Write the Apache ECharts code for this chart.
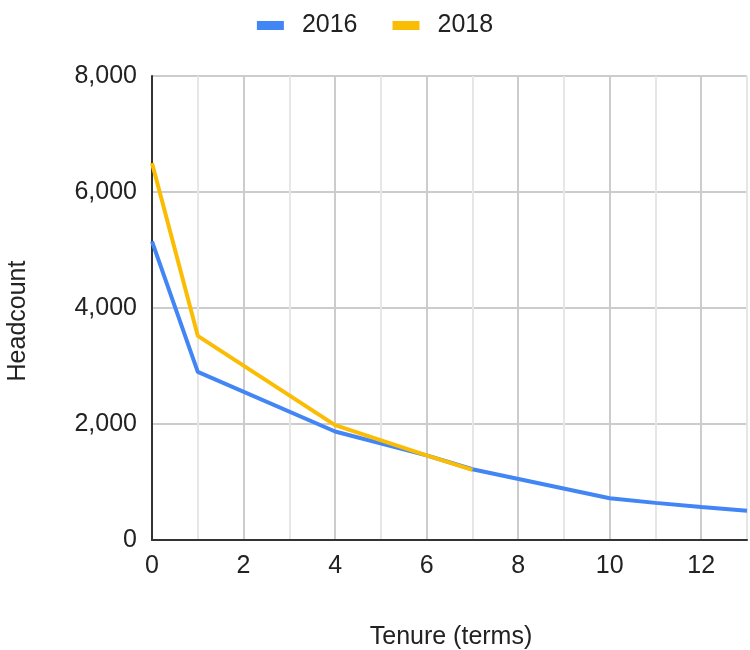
<!DOCTYPE html>
<html>
<head>
<meta charset="utf-8">
<script src="https://cdn.jsdelivr.net/npm/echarts@6/dist/echarts.min.js"></script>
<style>html,body{margin:0;padding:0;background:#fff}#c{width:750px;height:650px}</style>
</head>
<body>
<div id="c"></div>
<script>
const seriesNames = ['2016', '2018'];
const tenure2016 = [0, 1, 4, 6, 7, 10, 11, 12, 13];
const headcount2016 = [5150, 2900, 1870, 1460, 1220, 720, 640, 570, 505];
const tenure2018 = [0, 1, 4, 6, 7];
const headcount2018 = [6500, 3520, 1980, 1460, 1210];
const xTitle = 'Tenure (terms)';
const yTitle = 'Headcount';

const FONT = '"Liberation Sans", Arial, sans-serif';
const chart = echarts.init(document.getElementById('c'));
const pairs = (xs, ys) => xs.map((x, i) => [x, ys[i]]);

chart.setOption({
  animation: false,
  backgroundColor: '#fff',
  color: ['#4285F4', '#FBBC04'],
  legend: {
    top: 8,
    left: 'center',
    itemWidth: 27,
    itemHeight: 9,
    itemGap: 35,
    icon: 'rect',
    textStyle: { fontFamily: FONT, fontSize: 25, color: '#222', padding: [0, 0, 0, 13] },
    data: seriesNames
  },
  grid: { left: 152, right: 3, top: 76, bottom: 110, containLabel: false },
  xAxis: {
    type: 'value', min: 0, max: 13, interval: 1,
    axisLine: { show: true, lineStyle: { color: '#333', width: 2 } },
    axisTick: { show: false },
    axisLabel: {
      fontFamily: FONT, fontSize: 25, color: '#222', margin: 14,
      formatter: v => (v % 2 === 0 && v < 13) ? String(v) : ''
    },
    splitLine: { show: true, lineStyle: { color: ['#cccccc', '#e6e6e6'], width: 2 } }
  },
  yAxis: {
    type: 'value', min: 0, max: 8000, interval: 2000,
    axisLine: { show: true, lineStyle: { color: '#333', width: 2 } },
    axisTick: { show: false },
    axisLabel: {
      fontFamily: FONT, fontSize: 25, color: '#222', margin: 15,
      formatter: v => v.toLocaleString('en-US')
    },
    splitLine: { show: true, lineStyle: { color: '#cccccc', width: 2 } }
  },
  graphic: [
    { type: 'text', x: 18, y: 321, rotation: Math.PI / 2, style: { text: yTitle, font: '25px ' + FONT, fill: '#222', align: 'center', verticalAlign: 'middle' } },
    { type: 'text', x: 451, y: 637, style: { text: xTitle, font: '25px ' + FONT, fill: '#222', align: 'center', verticalAlign: 'middle' } }
  ],
  series: [
    { name: seriesNames[0], type: 'line', data: pairs(tenure2016, headcount2016), showSymbol: false, symbol: 'none', lineStyle: { width: 4 }, z: 2 },
    { name: seriesNames[1], type: 'line', data: pairs(tenure2018, headcount2018), showSymbol: false, symbol: 'none', lineStyle: { width: 4 }, z: 3 }
  ]
});
</script>
</body>
</html>
